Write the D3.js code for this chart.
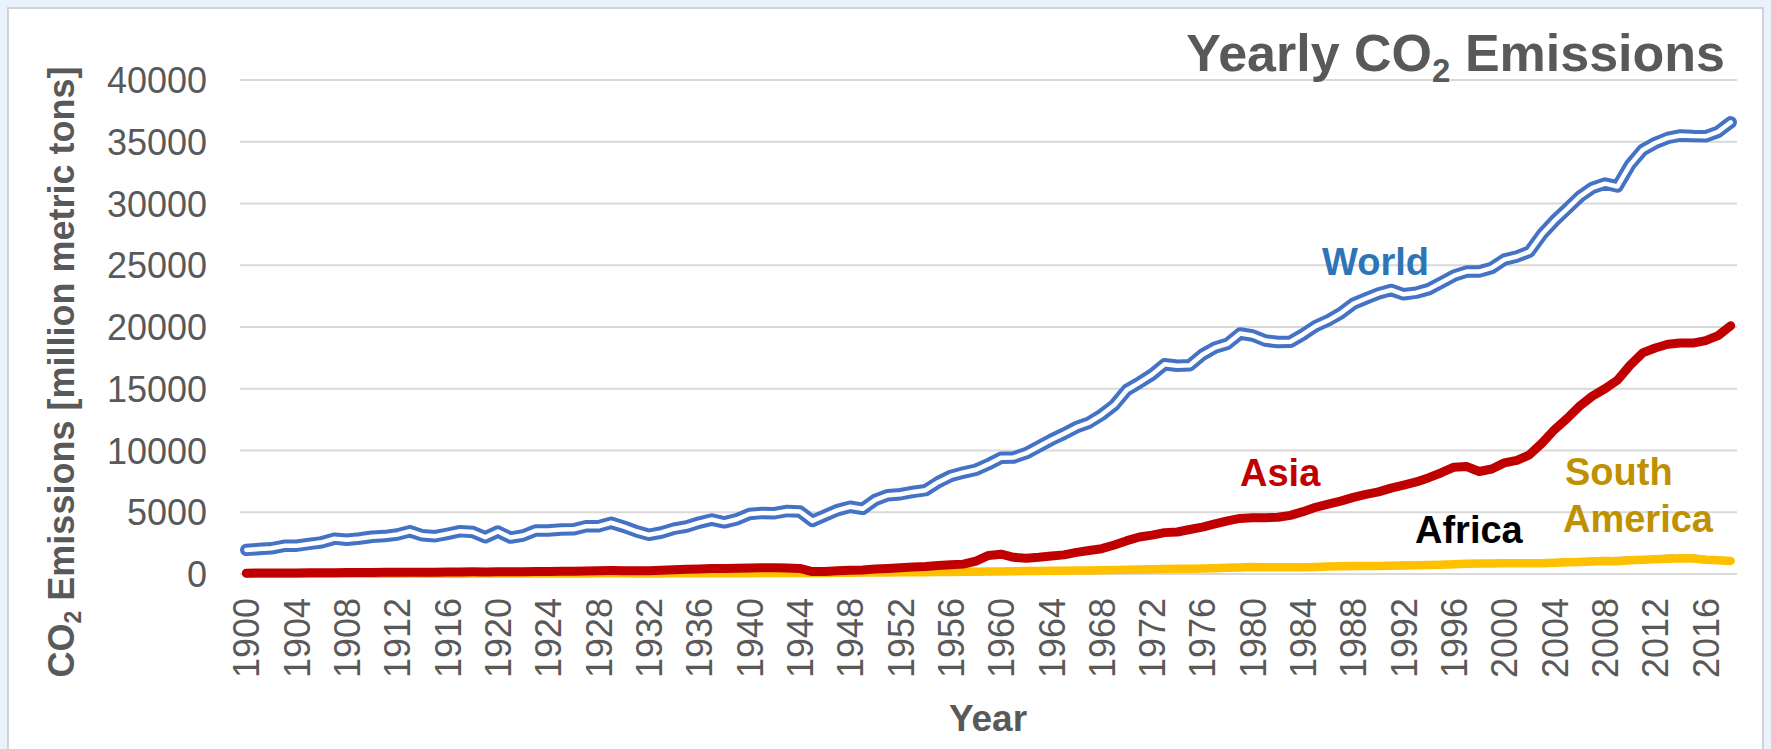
<!DOCTYPE html>
<html>
<head>
<meta charset="utf-8">
<script src="https://cdn.jsdelivr.net/npm/d3@7"></script>
<style>
  html, body { margin: 0; padding: 0; background: #eaf2fb; }
  svg { display: block; }
  text { font-family: "Liberation Sans", Arial, sans-serif; }
</style>
</head>
<body>
<svg id="chart" width="1771" height="749"></svg>
<script>
// Yearly CO2 emissions by region, million metric tons, 1900-2018
const years = d3.range(1900, 2019);

const tickYears = [1900, 1904, 1908, 1912, 1916, 1920, 1924, 1928, 1932, 1936,
  1940, 1944, 1948, 1952, 1956, 1960, 1964, 1968, 1972, 1976, 1980, 1984,
  1988, 1992, 1996, 2000, 2004, 2008, 2012, 2016];

const yTicks = [0, 5000, 10000, 15000, 20000, 25000, 30000, 35000, 40000];

const worldValues = [
  1953, 2017, 2079, 2279, 2295, 2436, 2564, 2864, 2774, 2871,
  3019, 3068, 3196, 3463, 3131, 3060, 3254, 3471, 3400, 2979,
  3439, 2951, 3116, 3523, 3526, 3597, 3616, 3868, 3869, 4150,
  3833, 3462, 3174, 3361, 3671, 3847, 4163, 4408, 4181, 4433,
  4855, 4948, 4924, 5105, 5057, 4300, 4738, 5174, 5444, 5276,
  6003, 6379, 6464, 6647, 6789, 7434, 7939, 8216, 8442, 8894,
  9412, 9435, 9781, 10329, 10876, 11358, 11891, 12266, 12891, 13677,
  14899, 15501, 16144, 16978, 16861, 16900, 17752, 18330, 18643, 19470,
  19313, 18903, 18782, 18808, 19393, 20068, 20533, 21108, 21879, 22306,
  22719, 22997, 22648, 22780, 23066, 23607, 24157, 24486, 24484, 24781,
  25453, 25709, 26103, 27505, 28611, 29571, 30555, 31260, 31609, 31379,
  33131, 34336, 34901, 35307, 35507, 35460, 35436, 35809, 36573
];

const asiaValues = [
  70, 75, 80, 85, 90, 95, 100, 110, 115, 120,
  130, 135, 140, 150, 150, 150, 160, 170, 175, 170,
  190, 180, 190, 200, 210, 220, 230, 245, 260, 275,
  270, 265, 270, 300, 340, 380, 410, 440, 450, 470,
  490, 500, 500, 490, 450, 200, 210, 260, 300, 330,
  400, 450, 500, 560, 600, 680, 740, 800, 1050, 1500,
  1600, 1350, 1280, 1350, 1450, 1550, 1750, 1900, 2050, 2350,
  2700, 3000, 3150, 3350, 3400, 3600, 3800, 4050, 4300, 4500,
  4550, 4550, 4600, 4750, 5050, 5400, 5650, 5900, 6200, 6450,
  6650, 6950, 7200, 7450, 7800, 8200, 8650, 8700, 8300, 8500,
  9000, 9200, 9650, 10600, 11700, 12600, 13600, 14400, 15000, 15700,
  16900, 17900, 18300, 18600, 18700, 18700, 18900, 19300, 20100
];

const africaValues = [
  8, 9, 10, 11, 12, 13, 14, 16, 17, 18,
  20, 21, 22, 24, 22, 21, 23, 25, 26, 24,
  28, 26, 27, 31, 33, 35, 36, 38, 40, 42,
  40, 36, 34, 36, 40, 44, 48, 52, 54, 56,
  60, 62, 64, 66, 68, 70, 74, 80, 86, 92,
  100, 108, 114, 120, 128, 136, 144, 150, 154, 160,
  166, 170, 178, 186, 200, 214, 228, 240, 256, 274,
  300, 330, 360, 390, 380, 400, 430, 460, 500, 540,
  560, 570, 600, 630, 640, 660, 690, 720, 740, 760,
  780, 790, 800, 800, 810, 840, 860, 880, 890, 900,
  910, 930, 940, 980, 1040, 1090, 1120, 1160, 1220, 1220,
  1260, 1280, 1320, 1400, 1450, 1420, 1300, 1150, 1080
];

const southAmericaValues = [
  12, 13, 14, 15, 16, 18, 19, 21, 22, 24,
  26, 27, 29, 31, 28, 27, 29, 30, 31, 32,
  36, 34, 36, 40, 43, 45, 47, 50, 53, 56,
  52, 48, 45, 50, 54, 58, 61, 64, 66, 68,
  70, 72, 73, 76, 78, 80, 88, 96, 104, 112,
  120, 128, 134, 140, 150, 160, 170, 182, 192, 200,
  210, 222, 234, 244, 256, 268, 280, 292, 310, 324,
  340, 360, 380, 400, 420, 430, 450, 470, 500, 530,
  560, 550, 545, 540, 555, 570, 600, 620, 640, 650,
  650, 670, 680, 700, 720, 750, 790, 820, 850, 860,
  870, 880, 870, 880, 920, 950, 980, 1020, 1060, 1040,
  1120, 1150, 1200, 1240, 1270, 1250, 1150, 1110, 1060
];

const svg = d3.select("#chart");
const W = 1771, H = 749;
const plot = { left: 240, right: 1737, top: 80, bottom: 574 };

const grey = "#595959";

// chart panel
svg.append("rect")
  .attr("x", 8).attr("y", 8)
  .attr("width", W - 16).attr("height", H)
  .attr("fill", "#ffffff")
  .attr("stroke", "#d0d4d9").attr("stroke-width", 2);

const x = d3.scalePoint()
  .domain(years)
  .range([plot.left, plot.right])
  .padding(0.5);

const y = d3.scaleLinear()
  .domain([0, 40000])
  .range([plot.bottom, plot.top]);

// horizontal gridlines
svg.append("g")
  .selectAll("line")
  .data(yTicks)
  .join("line")
  .attr("x1", plot.left).attr("x2", plot.right)
  .attr("y1", d => y(d)).attr("y2", d => y(d))
  .attr("stroke", "#d9d9d9").attr("stroke-width", 2);

// y axis tick labels
const yAxis = d3.axisLeft(y).tickValues(yTicks).tickSize(0).tickPadding(0).tickFormat(d3.format("d"));
const gy = svg.append("g").attr("transform", `translate(207,0)`).call(yAxis);
gy.select(".domain").remove();
gy.selectAll("text")
  .attr("font-size", 36)
  .attr("fill", grey)
  .attr("font-family", "Liberation Sans, Arial, sans-serif")
  .attr("dy", "0.35em");

// x axis tick labels, rotated
const xAxis = d3.axisBottom(x).tickValues(tickYears).tickSize(0).tickPadding(0);
const gx = svg.append("g").attr("transform", `translate(0,${plot.bottom})`).call(xAxis);
gx.select(".domain").remove();
gx.selectAll("text")
  .attr("font-size", 36)
  .attr("fill", grey)
  .attr("font-family", "Liberation Sans, Arial, sans-serif")
  .attr("text-anchor", "end")
  .attr("transform", "rotate(-90)")
  .attr("x", -24)
  .attr("y", 0)
  .attr("dy", "0.35em");

// series lines
const line = values => d3.line()
  .x((d, i) => x(years[i]))
  .y(d => y(d))(values);

const lines = svg.append("g")
  .attr("fill", "none")
  .attr("stroke-linecap", "round")
  .attr("stroke-linejoin", "round");

lines.append("path")
  .attr("d", line(africaValues))
  .attr("stroke", "#a5a5a5")
  .attr("stroke-width", 4.5)
  .attr("stroke-linecap", "butt")
  .attr("stroke-dasharray", "24,12");

lines.append("path")
  .attr("d", line(southAmericaValues))
  .attr("stroke", "#ffc000")
  .attr("stroke-width", 8.5);

lines.append("path")
  .attr("d", line(asiaValues))
  .attr("stroke", "#c00000")
  .attr("stroke-width", 9);

// World drawn as a double line: blue outer stroke with a white core
lines.append("path")
  .attr("d", line(worldValues))
  .attr("stroke", "#4472c4")
  .attr("stroke-width", 12.5);
lines.append("path")
  .attr("d", line(worldValues))
  .attr("stroke", "#ffffff")
  .attr("stroke-width", 4.5);

// title
const title = svg.append("text")
  .attr("x", 1725).attr("y", 71)
  .attr("text-anchor", "end")
  .attr("font-size", 52)
  .attr("font-weight", "bold")
  .attr("fill", grey);
title.append("tspan").text("Yearly CO");
title.append("tspan").attr("font-size", 33).attr("dy", 11).text("2");
title.append("tspan").attr("dy", -11).text(" Emissions");

// axis titles
svg.append("text")
  .attr("x", 988).attr("y", 731)
  .attr("text-anchor", "middle")
  .attr("font-size", 37)
  .attr("font-weight", "bold")
  .attr("fill", grey)
  .text("Year");

const yTitle = svg.append("text")
  .attr("transform", "translate(74,372) rotate(-90)")
  .attr("text-anchor", "middle")
  .attr("font-size", 36)
  .attr("font-weight", "bold")
  .attr("fill", grey);
yTitle.append("tspan").text("CO");
yTitle.append("tspan").attr("font-size", 23).attr("dy", 7).text("2");
yTitle.append("tspan").attr("dy", -7).text(" Emissions [million metric tons]");

// series labels
const labels = [
  { text: "World", x: 1322, y: 275, color: "#2e75b6" },
  { text: "Asia", x: 1240, y: 486, color: "#c00000" },
  { text: "Africa", x: 1415, y: 543, color: "#000000" },
  { text: "South", x: 1565, y: 485, color: "#bf9000" },
  { text: "America", x: 1563, y: 532, color: "#bf9000" }
];
svg.append("g")
  .selectAll("text")
  .data(labels)
  .join("text")
  .attr("x", d => d.x).attr("y", d => d.y)
  .attr("font-size", 38)
  .attr("font-weight", "bold")
  .attr("fill", d => d.color)
  .text(d => d.text);
</script>
</body>
</html>
